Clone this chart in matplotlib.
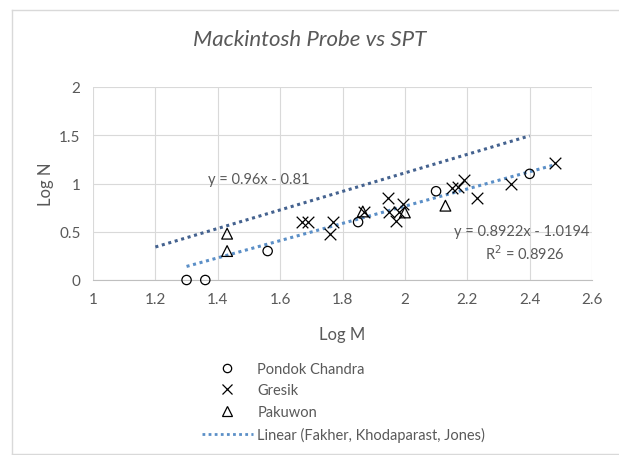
import matplotlib.pyplot as plt
from matplotlib.lines import Line2D

plt.rcParams['font.family'] = ['Lato', 'DejaVu Sans']

# data
pondok_m = [1.30, 1.36, 1.56, 1.85, 2.10, 2.40]
pondok_n = [0.00, 0.00, 0.30, 0.60, 0.92, 1.10]

gresik_m = [1.67, 1.69, 1.76, 1.77, 1.87, 1.945, 1.95, 1.97, 1.98, 1.995,
            2.15, 2.17, 2.19, 2.23, 2.34, 2.48]
gresik_n = [0.60, 0.60, 0.48, 0.60, 0.70, 0.85, 0.70, 0.61, 0.70, 0.79,
            0.95, 0.96, 1.04, 0.85, 1.00, 1.21]

pakuwon_m = [1.43, 1.43, 1.865, 2.00, 2.13]
pakuwon_n = [0.48, 0.30, 0.71, 0.70, 0.77]

# trend lines: slope, intercept, x range
fkj_coef = [0.96, -0.81]
fkj_range = [1.2, 2.4]
fit_coef = [0.8922, -1.0194]
fit_range = [1.3, 2.48]

grey = '#595959'
W, H = 619, 456

fig = plt.figure(figsize=(6.19, 4.56), dpi=100)
ax = fig.add_axes([93/W, 1-281/H, (592-93)/W, (281-88)/H])

ax.set_xlim(1, 2.6)
ax.set_ylim(0, 2)
ax.set_xticks([1, 1.2, 1.4, 1.6, 1.8, 2, 2.2, 2.4, 2.6])
ax.set_xticklabels(['1', '1.2', '1.4', '1.6', '1.8', '2', '2.2', '2.4', '2.6'])
ax.set_yticks([0, 0.5, 1, 1.5, 2])
ax.set_yticklabels(['0', '0.5', '1', '1.5', '2'])
ax.grid(True, color='#d9d9d9', lw=0.8)
ax.set_axisbelow(True)
for s in ['top', 'right', 'left']:
    ax.spines[s].set_visible(False)
ax.spines['bottom'].set_color('#bfbfbf')
ax.tick_params(length=0, labelsize=11, colors=grey, pad=9)

fx = fkj_range
ax.plot(fx, [fkj_coef[0]*v + fkj_coef[1] for v in fx], ls=(0, (1, 1.2)), lw=2.2,
        color='#44628f', zorder=2)
gx = fit_range
ax.plot(gx, [fit_coef[0]*v + fit_coef[1] for v in gx], ls=(0, (1, 1.2)), lw=2.2,
        color='#5b8fc7', zorder=2)

ax.scatter(pondok_m, pondok_n, marker='o', s=45, facecolors='none', edgecolors='black',
           linewidths=0.9, zorder=3, clip_on=False)
ax.scatter(gresik_m, gresik_n, marker='x', s=70, color='black', linewidths=0.9, zorder=3)
ax.scatter(pakuwon_m, pakuwon_n, marker='^', s=60, facecolors='none', edgecolors='black',
           linewidths=0.9, zorder=3)

ax.text(1.53, 1.05, 'y = 0.96x - 0.81', fontsize=10.5, color=grey, ha='center', va='center')
ax.text(2.375, 0.51, 'y = 0.8922x - 1.0194', fontsize=10.5, color=grey, ha='center', va='center')
ax.text(2.385, 0.28, 'R$^2$ = 0.8926', fontsize=10.5, color=grey, ha='center', va='center')

ax.set_xlabel('Log M', fontsize=12, color=grey, labelpad=14)
ax.set_ylabel('Log N', fontsize=12, color=grey, labelpad=4)
fig.text(0.5, 1-40/H, 'Mackintosh Probe vs SPT', fontsize=16, style='italic',
         color=grey, ha='center', va='center')

handles = [
    Line2D([], [], marker='o', ls='none', mfc='none', mec='black', ms=6, mew=0.9),
    Line2D([], [], marker='x', ls='none', color='black', ms=7, mew=0.9),
    Line2D([], [], marker='^', ls='none', mfc='none', mec='black', ms=7, mew=0.9),
    Line2D([], [], ls=(0, (1, 1.2)), lw=2, color='#5b8fc7'),
]
labels = ['Pondok Chandra', 'Gresik', 'Pakuwon', 'Linear (Fakher, Khodaparast, Jones)']
fig.legend(handles, labels, loc='upper left', bbox_to_anchor=(196/W, 1-357/H),
           frameon=False, fontsize=10.5, labelcolor=grey, handlelength=3.5,
           handletextpad=0.3, labelspacing=0.52, borderaxespad=0)

# chart area border
for xs, ys in [([12, 12], [11, 455]), ([12, W], [11, 11]), ([12, W], [455, 455])]:
    fig.add_artist(Line2D([x/W for x in xs], [1-y/H for y in ys], color='#d9d9d9', lw=1))

fig.savefig('out.png', dpi=100)
